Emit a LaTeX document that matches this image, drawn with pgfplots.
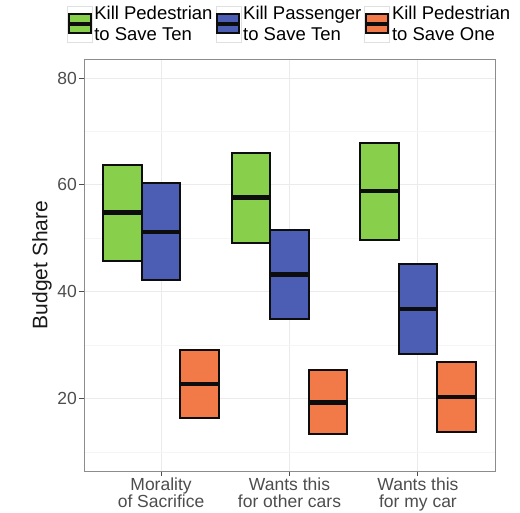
\documentclass[border=0pt]{standalone}
\usepackage{fontspec}
\setmainfont{Liberation Sans}
\usepackage{pgfplots}
\pgfplotsset{compat=1.18}
\definecolor{cgreen}{HTML}{88CF4C}
\definecolor{cblue}{HTML}{4C5EB4}
\definecolor{corange}{HTML}{F27A48}
\definecolor{tickgrey}{HTML}{4D4D4D}
\newcommand{\keyimg}[1]{%
  \draw[draw=black!12, fill=white, line width=0.6pt] (0pt,-18pt) rectangle (25pt,18pt);
  \draw[fill=#1, draw=black!95, line width=2pt] (1.5pt,-9.5pt) rectangle (23.5pt,9.5pt);
  \draw[draw=black!95, line width=3.5pt] (1.5pt,0pt) -- (23.5pt,0pt);}
\pgfplotsset{
  box/.style={draw=black!95, fill=#1, line width=2pt, line join=miter},
  med/.style={forget plot, draw=black!95, line width=4.6pt, line cap=butt},
}
\begin{document}
\begin{tikzpicture}
\begin{axis}[
  scale only axis, width=411pt, height=412pt,
  xmin=0.4, xmax=3.6, ymin=6.4, ymax=83.6,
  xtick={1,2,3},
  xticklabels={Morality\\of Sacrifice, Wants this\\for other cars, Wants this\\for my car},
  xticklabel style={align=center, font=\fontsize{17.5}{17}\selectfont, text=tickgrey, inner sep=2pt},
  ytick={20,40,60,80}, minor ytick={10,30,50,70},
  yticklabel style={font=\fontsize{17.5}{17}\selectfont, text=tickgrey, inner sep=2pt},
  ylabel={Budget Share},
  ylabel style={font=\fontsize{21}{21}\selectfont, text=black!90},
  grid=both,
  major grid style={draw=black!8, line width=0.9pt},
  minor grid style={draw=black!4, line width=0.5pt},
  axis line style={draw=black!45, line width=0.9pt},
  tick style={draw=tickgrey, line width=0.9pt},
  tick align=outside, major tick length=5pt, minor tick length=0pt,
  xtick pos=bottom, ytick pos=left,
  /pgf/number format/assume math mode=true,
  legend columns=3,
  legend style={at={(0.5,1)}, anchor=south, yshift=13pt, draw=none, fill=none,
    font=\fontsize{18.5}{21}\selectfont,
    cells={align=left, anchor=west},
    /tikz/every even column/.append style={column sep=1pt},
    /tikz/every odd column/.append style={column sep=0pt}},
]
% group 1: Morality of Sacrifice
\addplot[box=cgreen, legend image code/.code={\keyimg{cgreen}}]
  coordinates {(0.55,45.8) (0.85,45.8) (0.85,63.75) (0.55,63.75)} --cycle;
\addlegendentry{Kill Pedestrian\\to Save Ten}
\addplot[box=cblue, legend image code/.code={\keyimg{cblue}}]
  coordinates {(0.85,42.2) (1.15,42.2) (1.15,60.3) (0.85,60.3)} --cycle;
\addlegendentry{Kill Passenger\\to Save Ten}
\addplot[box=corange, legend image code/.code={\keyimg{corange}}]
  coordinates {(1.15,16.4) (1.45,16.4) (1.45,29.1) (1.15,29.1)} --cycle;
\addlegendentry{Kill Pedestrian\\to Save One}
\addplot[med] coordinates {(0.55,54.8) (0.85,54.8)};
\addplot[med] coordinates {(0.85,51.2) (1.15,51.2)};
\addplot[med] coordinates {(1.15,22.7) (1.45,22.7)};
% group 2: Wants this for other cars
\addplot[box=cgreen, forget plot]
  coordinates {(1.55,49.2) (1.85,49.2) (1.85,66.05) (1.55,66.05)} --cycle;
\addplot[box=cblue, forget plot]
  coordinates {(1.85,34.8) (2.15,34.8) (2.15,51.6) (1.85,51.6)} --cycle;
\addplot[box=corange, forget plot]
  coordinates {(2.15,13.3) (2.45,13.3) (2.45,25.4) (2.15,25.4)} --cycle;
\addplot[med] coordinates {(1.55,57.7) (1.85,57.7)};
\addplot[med] coordinates {(1.85,43.25) (2.15,43.25)};
\addplot[med] coordinates {(2.15,19.25) (2.45,19.25)};
% group 3: Wants this for my car
\addplot[box=cgreen, forget plot]
  coordinates {(2.55,49.7) (2.85,49.7) (2.85,67.9) (2.55,67.9)} --cycle;
\addplot[box=cblue, forget plot]
  coordinates {(2.85,28.25) (3.15,28.25) (3.15,45.2) (2.85,45.2)} --cycle;
\addplot[box=corange, forget plot]
  coordinates {(3.15,13.75) (3.45,13.75) (3.45,26.9) (3.15,26.9)} --cycle;
\addplot[med] coordinates {(2.55,58.9) (2.85,58.9)};
\addplot[med] coordinates {(2.85,36.75) (3.15,36.75)};
\addplot[med] coordinates {(3.15,20.3) (3.45,20.3)};
\end{axis}
\pgfresetboundingbox
\path[use as bounding box] ([shift={(-84pt,-42pt)}]current axis.south west) rectangle ++(520pt,513pt);
\end{tikzpicture}
\end{document}
